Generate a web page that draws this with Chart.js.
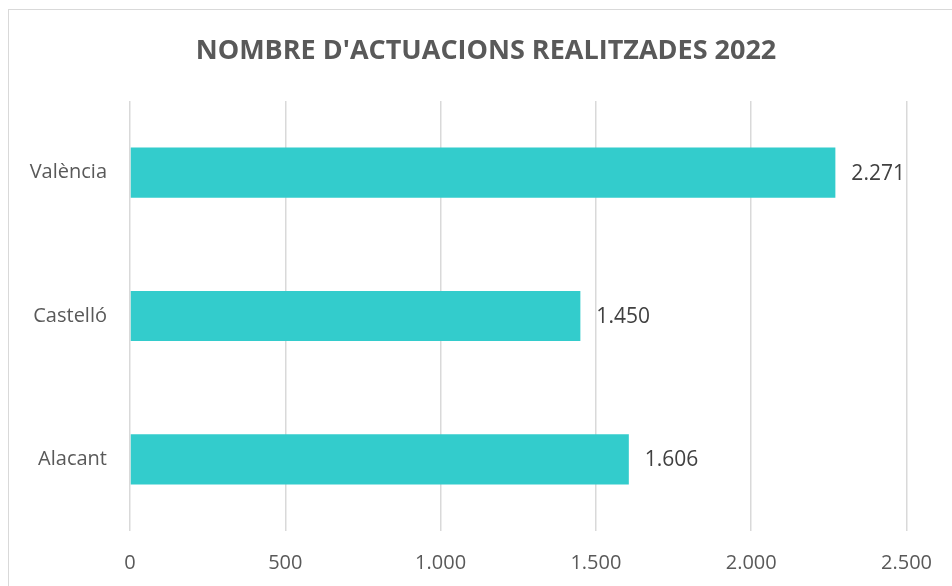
<!DOCTYPE html>
<html>
<head>
<meta charset="utf-8">
<script src="https://cdn.jsdelivr.net/npm/chart.js@4"></script>
<style>
    html, body { margin: 0; padding: 0; background: #ffffff; overflow: hidden; }
    #marc { position: absolute; left: 8px; top: 9px; width: 980px; height: 620px; border: 1.5px solid #d9d9d9; }
    #caixa { position: absolute; left: 0; top: 0; width: 952px; height: 586px; }
</style>
</head>
<body>
<div id="marc"></div>
<div id="caixa"><canvas id="grafic"></canvas></div>
<script>
// Dades del gràfic
const titol = "NOMBRE D'ACTUACIONS REALITZADES 2022";
const provincies = ['València', 'Castelló', 'Alacant'];
const actuacions = [2271, 1450, 1606];
const ticksX = [0, 500, 1000, 1500, 2000, 2500];

// Format amb punt de milers
function formatarNombre(n) {
    return String(n).replace(/\B(?=(\d{3})+(?!\d))/g, '.');
}

// Plugin per dibuixar el títol i les etiquetes de valor
const pluginEtiquetes = {
    id: 'etiquetes',
    afterDraw(chart) {
        const ctx = chart.ctx;
        ctx.save();
        ctx.fillStyle = '#595959';
        ctx.font = 'bold 27px "Open Sans"';
        ctx.textAlign = 'center';
        ctx.textBaseline = 'middle';
        ctx.fillText(titol, 486, 51);

        const meta = chart.getDatasetMeta(0);
        ctx.fillStyle = '#404040';
        ctx.font = '21px "Open Sans"';
        ctx.textAlign = 'left';
        meta.data.forEach((bar, i) => {
            ctx.fillText(formatarNombre(actuacions[i]), bar.x + 16, bar.y + 1);
        });
        ctx.restore();
    }
};

new Chart(document.getElementById('grafic'), {
    type: 'bar',
    data: {
        labels: provincies,
        datasets: [{
            data: actuacions,
            backgroundColor: '#33cccc',
            borderWidth: 0,
            barPercentage: 0.7,
            categoryPercentage: 0.5
        }]
    },
    options: {
        indexAxis: 'y',
        responsive: true,
        maintainAspectRatio: false,
        animation: false,
        layout: {
            padding: { left: 0, right: 44, top: 101, bottom: 0 }
        },
        scales: {
            x: {
                min: 0,
                max: 2500,
                afterBuildTicks: (scale) => {
                    scale.ticks = ticksX.map(v => ({ value: v }));
                },
                afterFit: (scale) => { scale.height = 55; },
                grid: { color: '#d9d9d9', lineWidth: 1.5, drawTicks: false },
                border: { display: false },
                ticks: {
                    padding: 20,
                    color: '#595959',
                    font: { family: '"Open Sans"', size: 20 },
                    callback: (v) => formatarNombre(v)
                }
            },
            y: {
                afterFit: (scale) => { scale.width = 130; },
                grid: { display: false },
                border: { display: false },
                ticks: {
                    padding: 15,
                    color: '#595959',
                    font: { family: '"Open Sans"', size: 20 }
                }
            }
        },
        plugins: {
            legend: { display: false },
            tooltip: { enabled: false },
            title: { display: false }
        }
    },
    plugins: [pluginEtiquetes]
});
</script>
</body>
</html>
